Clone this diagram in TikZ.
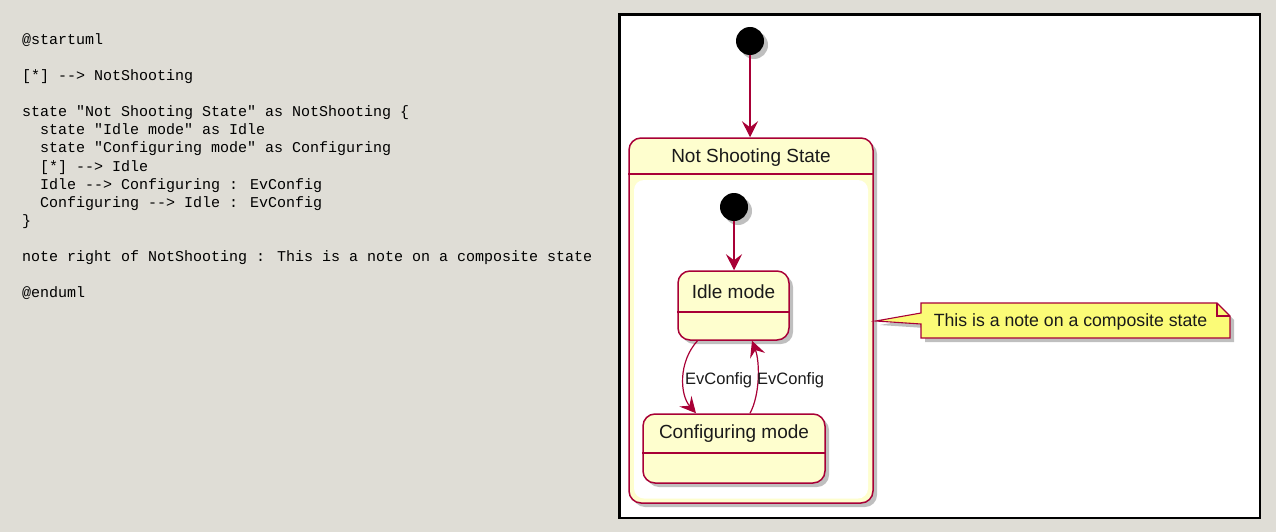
\documentclass[tikz,border=0pt]{standalone}
\usepackage{fontspec}
\setmainfont{Liberation Sans}
\newfontfamily\codefont{Liberation Mono}
\usetikzlibrary{shadows,arrows.meta}
\definecolor{bgc}{HTML}{DFDDD6}
\definecolor{umlred}{HTML}{A80036}
\definecolor{statefill}{HTML}{FEFECE}
\definecolor{notefill}{HTML}{FBFB77}
\definecolor{txt}{HTML}{1A1A1A}
\tikzset{
  code/.style={anchor=base west, inner sep=0pt, font=\codefont\fontsize{15}{18}\selectfont, text=black},
  shad/.style={drop shadow={opacity=0.5, shadow xshift=4pt, shadow yshift=-4pt}},
  initst/.style={circle, fill=black, minimum size=28pt, inner sep=0pt, shad},
  statebox/.style={draw=umlred, line width=1.5pt, fill=statefill, rounded corners=12pt, inner sep=0pt, shad},
  stlabel/.style={inner sep=0pt, text=txt, font=\fontsize{19}{22}\selectfont},
  edgelabel/.style={inner sep=0pt, text=txt, font=\fontsize{16.5}{19}\selectfont},
  trans/.style={draw=umlred, line width=1.2pt, -{Stealth[length=16pt, width=16pt, inset=6pt]}},
}
\begin{document}
\begin{tikzpicture}[x=1pt,y=-1pt]
\fill[bgc] (0,0) rectangle (1276,532);
\useasboundingbox (0,0) rectangle (1276,532);
% code text
\node[code] (c1) at (22,45) {@startuml};
\node[code] (c2) at (22,81) {[*] --> NotShooting};
\node[code] (c3) at (22,117) {state "Not Shooting State" as NotShooting \{};
\node[code] (c4) at (40,135) {state "Idle mode" as Idle};
\node[code] (c5) at (40,153) {state "Configuring mode" as Configuring};
\node[code] (c6) at (40,171) {[*] --> Idle};
\node[code] (c7) at (40,189) {Idle --> Configuring : EvConfig};
\node[code] (c8) at (40,207) {Configuring --> Idle : EvConfig};
\node[code] (c9) at (22,225) {\}};
\node[code] (c10) at (22,261) {note right of NotShooting : This is a note on a composite state};
\node[code] (c11) at (22,297) {@enduml};
% right panel
\draw[fill=white, line width=2.6pt] (619.5,14.3) rectangle (1260,518);
% top initial state
\node[initst] (s0) at (750,41) {};
% composite state
\node[statebox, minimum width=244pt, minimum height=365pt] (ns) at (751,320.5) {};
\node[stlabel] (nst) at (751,158) {Not Shooting State};
\draw[umlred, line width=1.5pt] (ns.west |- 0,174) -- (ns.east |- 0,174);
\fill[white, rounded corners=10pt] (634,180) rectangle (868,498.5);
\draw[trans] (s0.south) -- (s0.south |- ns.north);
% inner initial
\node[initst] (s1) at (734,207) {};
% idle
\node[statebox, minimum width=111pt, minimum height=69pt] (idle) at (733.5,305.5) {};
\node[stlabel] (idlet) at (733.5,292) {Idle mode};
\draw[umlred, line width=1.5pt] (idle.west |- 0,312) -- (idle.east |- 0,312);
% configuring
\node[statebox, minimum width=182pt, minimum height=69pt] (cfg) at (734,448.5) {};
\node[stlabel] (cfgt) at (734,434) {Configuring mode};
\draw[umlred, line width=1.5pt] (cfg.west |- 0,453) -- (cfg.east |- 0,453);
% transitions
\draw[trans] (s1.south) -- (s1.south |- idle.north);
\draw[trans] ([xshift=-36pt]idle.south) .. controls (678,362) and (680,395) .. ([xshift=-38pt]cfg.north);
\draw[trans] ([xshift=16pt]cfg.north) .. controls (760,395) and (760,362) .. ([xshift=18.5pt]idle.south);
\node[edgelabel, anchor=west] (l1) at (685,380) {EvConfig};
\node[edgelabel, anchor=west] (l2) at (757,380) {EvConfig};
% note
\draw[umlred, line width=1.1pt, fill=notefill, shad] (921,303) -- (1217,303) -- (1230,316) -- (1230,338) -- (921,338) -- (921,324) -- ([xshift=2pt]ns.east |- 0,321) -- (921,313) -- cycle;
\draw[umlred, line width=1.1pt] (1217,303) -- (1217,316) -- (1230,316);
\node[inner sep=0pt, text=txt, font=\fontsize{17.7}{20}\selectfont] (note) at (1070.5,322) {This is a note on a composite state};
\end{tikzpicture}
\end{document}
